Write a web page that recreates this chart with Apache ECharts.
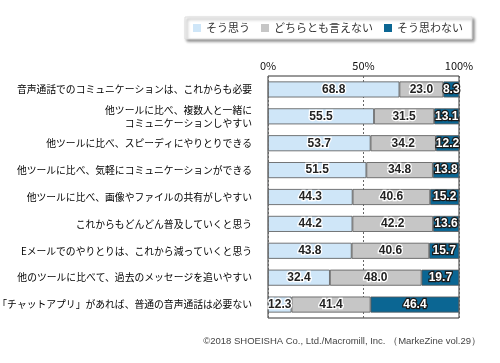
<!DOCTYPE html>
<html><head><meta charset="utf-8">
<script src="https://cdn.jsdelivr.net/npm/echarts@6/dist/echarts.min.js"></script>
<style>html,body{margin:0;padding:0;background:#fff;}#c{width:500px;height:363px;}</style>
</head><body><div id="c"></div>
<script>
const categories = [
  "音声通話でのコミュニケーションは、これからも必要",
  "他ツールに比べ、複数人と一緒に\nコミュニケーションしやすい",
  "他ツールに比べ、スピーディにやりとりできる",
  "他ツールに比べ、気軽にコミュニケーションができる",
  "他ツールに比べ、画像やファイルの共有がしやすい",
  "これからもどんどん普及していくと思う",
  "Eメールでのやりとりは、これから減っていくと思う",
  "他のツールに比べて、過去のメッセージを追いやすい",
  "「チャットアプリ」があれば、普通の音声通話は必要ない"
];
const seriesNames = ["そう思う", "どちらとも言えない", "そう思わない"];
const agree = [68.8, 55.5, 53.7, 51.5, 44.3, 44.2, 43.8, 32.4, 12.3];
const neutral = [23.0, 31.5, 34.2, 34.8, 40.6, 42.2, 40.6, 48.0, 41.4];
const disagree = [8.3, 13.1, 12.2, 13.8, 15.2, 13.6, 15.7, 19.7, 46.4];
const xTicks = [0, 50, 100];

const FONT = '"Noto Sans CJK JP", "Noto Sans", sans-serif';
const colors = ['#cfe6f8', '#c6c6c6', '#0b6693'];
const chart = echarts.init(document.getElementById('c'), null, {renderer: 'canvas'});

function mkSeries(name, data, idx) {
  const dark = idx === 2;
  return {
    name: name, type: 'bar', stack: 'all', data: data, barWidth: 16,
    itemStyle: {color: colors[idx], borderColor: '#555', borderWidth: 0.8},
    label: {
      show: true, position: 'inside', fontFamily: '"Liberation Sans Narrow", "Liberation Sans", sans-serif', fontSize: 12, fontWeight: 'bold',
      color: dark ? '#fff' : '#222',
      textBorderColor: dark ? '#1a1a1a' : '#fff', textBorderWidth: 2.5,
      formatter: p => p.value.toFixed(1)
    }
  };
}

chart.setOption({
  animation: false,
  textStyle: {fontFamily: FONT},
  legend: {
    data: seriesNames, left: 185, top: 17,
    padding: [5, 9, 5, 8], itemGap: 11,
    itemWidth: 8, itemHeight: 8, icon: 'rect',
    itemStyle: {borderWidth: 0},
    backgroundColor: '#fff', borderColor: '#ddd', borderWidth: 1,
    shadowBlur: 3, shadowColor: 'rgba(0,0,0,0.45)', shadowOffsetX: 2, shadowOffsetY: 2,
    textStyle: {fontFamily: FONT, fontSize: 11, color: '#333', lineHeight: 12}
  },
  grid: {left: 268, right: 41, top: 76, bottom: 45, show: true, borderColor: '#333', borderWidth: 1, containLabel: false, outerBoundsMode: 'none'},
  xAxis: {
    type: 'value', position: 'top', min: xTicks[0], max: xTicks[xTicks.length - 1], interval: 50,
    axisLine: {show: false}, axisTick: {show: false},
    axisLabel: {formatter: '{value}%', fontFamily: FONT, fontSize: 11, color: '#111', margin: 5},
    splitLine: {show: true, lineStyle: {type: [2, 2], color: '#666', width: 1}}
  },
  yAxis: {
    type: 'category', data: categories, inverse: true,
    axisLine: {show: false}, axisTick: {show: false},
    axisLabel: {fontFamily: FONT, fontSize: 9.8, color: '#000', margin: 16, lineHeight: 13, align: 'right'}
  },
  series: [mkSeries(seriesNames[0], agree, 0), mkSeries(seriesNames[1], neutral, 1), mkSeries(seriesNames[2], disagree, 2)],
  graphic: [{
    type: 'text', right: 19, top: 336,
    style: {text: '©2018 SHOEISHA Co., Ltd./Macromill, Inc. （MarkeZine vol.29）', fontFamily: '"Liberation Sans", sans-serif', fontSize: 9.5, fill: '#444'}
  }]
});
</script></body></html>
